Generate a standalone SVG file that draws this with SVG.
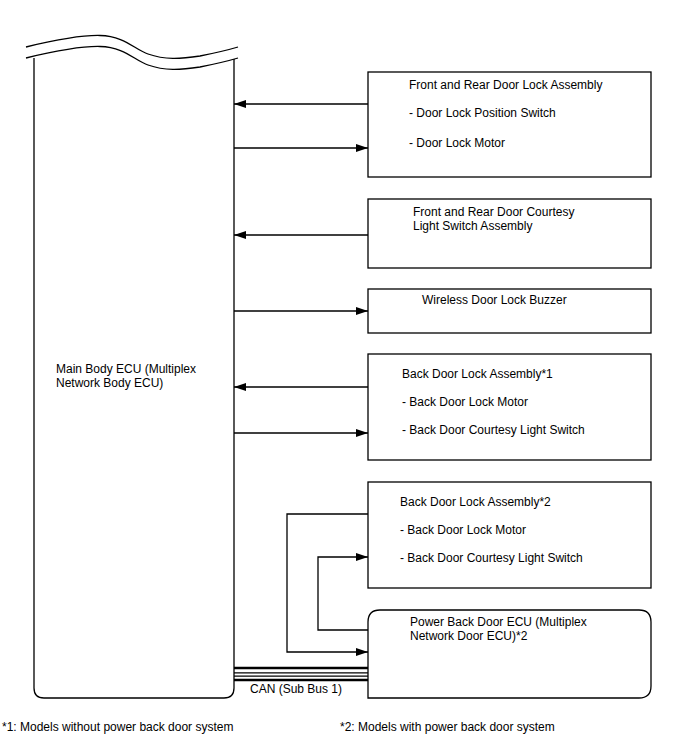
<svg xmlns="http://www.w3.org/2000/svg" width="688" height="755" viewBox="0 0 688 755">
<style>
.b{fill:#fff;stroke:#000;stroke-width:1.3}
.l{fill:none;stroke:#000;stroke-width:1.3}
text{font-family:"Liberation Sans",Arial,sans-serif;font-size:12px;fill:#000}
</style>
<defs>
<marker id="a" viewBox="0 0 12 8" refX="12" refY="4" markerWidth="12" markerHeight="8" markerUnits="userSpaceOnUse" orient="auto">
<path d="M0,0 L12,4 L0,8 Z" fill="#000"/>
</marker>
</defs>
<rect width="688" height="755" fill="#fff"/>
<g id="main">
<path class="b" d="M34,58 L34,688 Q34,698 44,698 L224,698 Q234,698 234,688 L234,59"/>
<path class="l" d="M26,47 C55,40 80,35 100,35.5 C125,36 135,50 148,54 C165,60 180,59 200,56 C215,53 228,50 238,47"/>
<path class="l" d="M26,58 C55,51 80,46 100,46.5 C125,47 135,61 148,65 C165,71 180,70 200,67 C215,64 228,61 238,58"/>
<text x="56" y="373">Main Body ECU (Multiplex</text>
<text x="56" y="387">Network Body ECU)</text>
</g>
<g id="n1">
<rect class="b" x="368" y="72" width="283" height="105"/>
<text x="409" y="89">Front and Rear Door Lock Assembly</text>
<text x="409" y="117">- Door Lock Position Switch</text>
<text x="409" y="147">- Door Lock Motor</text>
</g>
<g id="n2">
<rect class="b" x="368" y="199" width="283" height="69"/>
<text x="413" y="216">Front and Rear Door Courtesy</text>
<text x="413" y="230">Light Switch Assembly</text>
</g>
<g id="n3">
<rect class="b" x="368" y="289" width="283" height="44"/>
<text x="422" y="304">Wireless Door Lock Buzzer</text>
</g>
<g id="n4">
<rect class="b" x="368" y="354" width="283" height="106"/>
<text x="402" y="378">Back Door Lock Assembly*1</text>
<text x="402" y="406">- Back Door Lock Motor</text>
<text x="402" y="434">- Back Door Courtesy Light Switch</text>
</g>
<g id="n5">
<rect class="b" x="368" y="482" width="283" height="106"/>
<text x="400" y="506">Back Door Lock Assembly*2</text>
<text x="400" y="534">- Back Door Lock Motor</text>
<text x="400" y="562">- Back Door Courtesy Light Switch</text>
</g>
<g id="n6">
<path class="b" d="M368,698 L368,622 Q368,610 380,610 L639,610 Q651,610 651,622 L651,686 Q651,698 639,698 Z"/>
<text x="410" y="626">Power Back Door ECU (Multiplex</text>
<text x="410" y="640">Network Door ECU)*2</text>
</g>
<g id="connectors">
<line class="l" x1="368" y1="104" x2="234" y2="104" marker-end="url(#a)"/>
<line class="l" x1="234" y1="148" x2="368" y2="148" marker-end="url(#a)"/>
<line class="l" x1="368" y1="235" x2="234" y2="235" marker-end="url(#a)"/>
<line class="l" x1="234" y1="311" x2="368" y2="311" marker-end="url(#a)"/>
<line class="l" x1="368" y1="387" x2="234" y2="387" marker-end="url(#a)"/>
<line class="l" x1="234" y1="433" x2="368" y2="433" marker-end="url(#a)"/>
<polyline class="l" points="368,514 287,514 287,652 368,652" marker-end="url(#a)"/>
<polyline class="l" points="368,630 318,630 318,557 368,557" marker-end="url(#a)"/>
<g id="can">
<line x1="234" y1="668" x2="368" y2="668" stroke="#000" stroke-width="2.5"/>
<line x1="234" y1="672.8" x2="368" y2="672.8" stroke="#000" stroke-width="1.3"/>
<line x1="234" y1="676.2" x2="368" y2="676.2" stroke="#000" stroke-width="1.3"/>
<line x1="234" y1="680" x2="368" y2="680" stroke="#000" stroke-width="2.5"/>
</g>
<text x="250" y="693">CAN (Sub Bus 1)</text>
</g>
<text x="2" y="731">*1: Models without power back door system</text>
<text x="340" y="731">*2: Models with power back door system</text>
</svg>
